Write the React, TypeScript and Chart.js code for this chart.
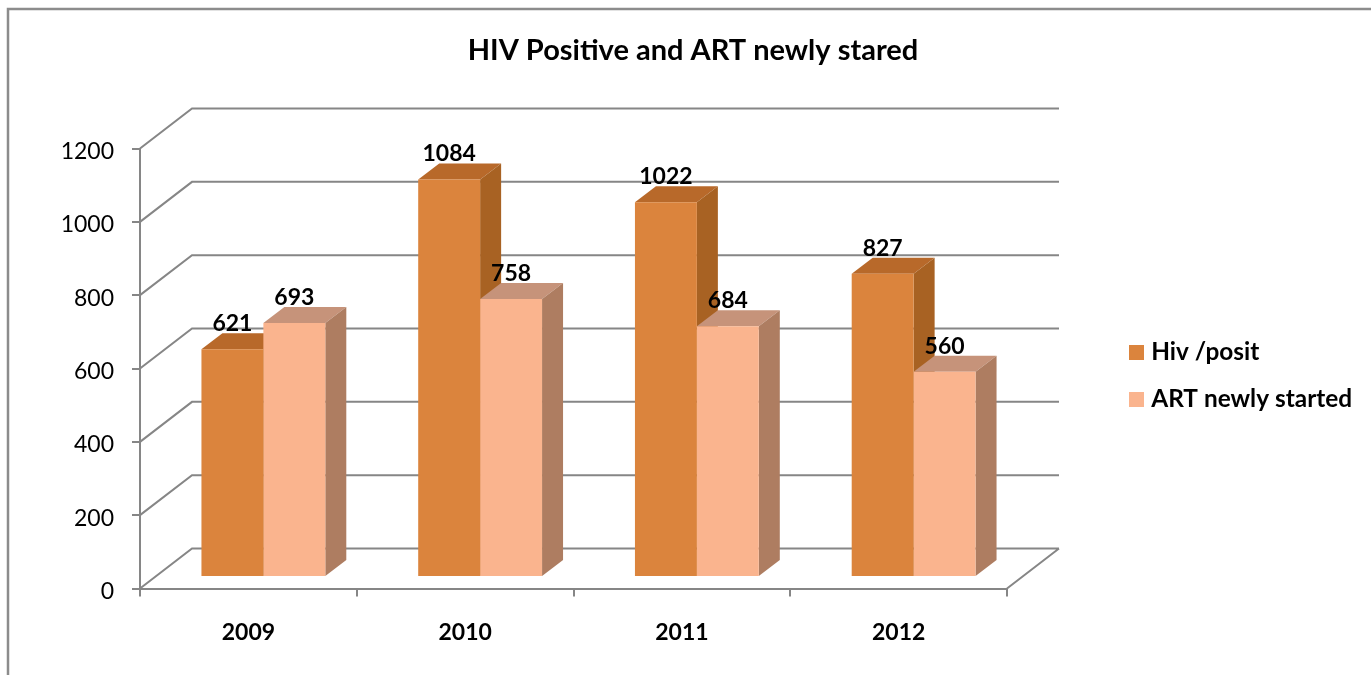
import { useEffect, useRef } from "react";
import { Chart, registerables } from "chart.js";

Chart.register(...registerables);

const years = ["2009", "2010", "2011", "2012"];
const hivPositive = [621, 1084, 1022, 827];
const artStarted = [693, 758, 684, 560];
const axisMax = 1200;
const axisStep = 200;

const AXIS_GREY = "#868686";
const FONT = "Lato";

// Oblique projection of the floor and of the columns standing on it.
const WALL = { dx: 52, dy: 40 };
const FRONT = { dx: 15, dy: 11.5 };
const COLUMN = { dx: 21, dy: 16 };

const faces = [
  { front: "#DB843D", top: "#B8692A", side: "#A86223" },
  { front: "#FAB48E", top: "#C6937A", side: "#AE7D61" },
];

function face(ctx: CanvasRenderingContext2D, pts: number[][], fill: string) {
  ctx.beginPath();
  pts.forEach(([x, y], i) => (i ? ctx.lineTo(x, y) : ctx.moveTo(x, y)));
  ctx.closePath();
  ctx.fillStyle = fill;
  ctx.fill();
}

const depthPlugin = {
  id: "depth",
  afterLayout(chart: any) {
    // The legend and title sit outside the plot's own centre line.
    const lg = chart.legend;
    lg.left = 1111.3;
    lg.right = 1371;
    lg.top = 317.6;
    lg.bottom = 675;
    chart.titleBlock.left = 0;
    chart.titleBlock.right = 1386;
  },
  beforeDraw(chart: any) {
    const { ctx, width, height } = chart;
    ctx.save();
    ctx.strokeStyle = "#8c8c8c";
    ctx.lineWidth = 2.5;
    ctx.beginPath();
    ctx.moveTo(8, height);
    ctx.lineTo(8, 9);
    ctx.lineTo(width, 9);
    ctx.stroke();
    ctx.restore();
    // Value labels on this axis sit slightly under their tick marks.
    for (const item of chart.scales.y.getLabelItems()) {
      item.options.translation[1] += 3;
    }
  },
  beforeDatasetsDraw(chart: any) {
    const { ctx, chartArea, scales } = chart;
    const { left, right, bottom } = chartArea;
    ctx.save();
    ctx.strokeStyle = AXIS_GREY;
    ctx.lineWidth = 2;
    ctx.beginPath();
    for (const tick of scales.y.ticks) {
      const y = scales.y.getPixelForValue(tick.value);
      ctx.moveTo(left, y);
      ctx.lineTo(left + WALL.dx, y - WALL.dy);
      ctx.lineTo(right + WALL.dx, y - WALL.dy);
    }
    ctx.moveTo(right, bottom);
    ctx.lineTo(right + WALL.dx, bottom - WALL.dy);
    ctx.stroke();
    ctx.restore();

    // Top and side faces go down first, left column before right column,
    // so a shorter neighbour hides the lower part of a taller column's side.
    ctx.save();
    ctx.translate(FRONT.dx, -FRONT.dy);
    chart.data.datasets.forEach((_: any, i: number) => {
      const shade = faces[i];
      for (const bar of chart.getDatasetMeta(i).data) {
        const l = bar.x - bar.width / 2;
        const r = bar.x + bar.width / 2;
        const t = bar.y;
        const b = bar.base;
        face(ctx, [[l, t], [l + COLUMN.dx, t - COLUMN.dy], [r + COLUMN.dx, t - COLUMN.dy], [r, t]], shade.top);
        face(ctx, [[r, t], [r + COLUMN.dx, t - COLUMN.dy], [r + COLUMN.dx, b - COLUMN.dy], [r, b]], shade.side);
      }
    });
    ctx.restore();
  },
  beforeDatasetDraw(chart: any) {
    chart.ctx.save();
    chart.ctx.translate(FRONT.dx, -FRONT.dy);
  },
  afterDatasetDraw(chart: any) {
    chart.ctx.restore();
  },
  afterDatasetsDraw(chart: any) {
    const { ctx } = chart;
    ctx.save();
    ctx.fillStyle = "#000";
    ctx.font = `bold 23px ${FONT}`;
    ctx.textAlign = "center";
    ctx.textBaseline = "middle";
    chart.data.datasets.forEach((ds: any, i: number) => {
      chart.getDatasetMeta(i).data.forEach((bar: any, j: number) => {
        ctx.fillText(String(ds.data[j]), bar.x + FRONT.dx, bar.y - FRONT.dy - 25.5);
      });
    });
    ctx.restore();
  },
};

export default function App() {
  const ref = useRef<HTMLCanvasElement>(null);

  useEffect(() => {
    const chart = new Chart(ref.current!, {
      type: "bar",
      data: {
        labels: years,
        datasets: [
          { label: "Hiv /posit", data: hivPositive, backgroundColor: faces[0].front, clip: false as any },
          { label: "ART newly started", data: artStarted, backgroundColor: faces[1].front, clip: false as any },
        ],
      },
      options: {
        responsive: false,
        animation: false,
        layout: { padding: { left: 0, right: 364, top: 0, bottom: 0 } },
        datasets: { bar: { categoryPercentage: 0.5714, barPercentage: 1 } },
        plugins: {
          tooltip: { enabled: false },
          title: {
            display: true,
            text: "HIV Positive and ART newly stared",
            color: "#000",
            font: { family: FONT, size: 29, weight: "bold" },
            padding: { top: 33.6, bottom: 80.1 },
          },
          legend: {
            position: "chartArea",
            align: "start",
            labels: {
              color: "#000",
              font: { family: FONT, size: 24.4, weight: "bold" },
              usePointStyle: true,
              pointStyle: "rect",
              boxWidth: 5,
              boxHeight: 15,
              padding: 22.7,
            },
          },
        },
        scales: {
          x: {
            afterFit: (s: any) => { s.height = 86.5; },
            grid: { drawOnChartArea: false, color: AXIS_GREY, lineWidth: 2, tickLength: 8 },
            border: { color: AXIS_GREY, width: 2 },
            ticks: { color: "#000", padding: 22, font: { family: FONT, size: 23, weight: "bold" } },
          },
          y: {
            min: 0,
            max: axisMax,
            afterFit: (s: any) => { s.width = 140; },
            grid: { drawOnChartArea: false, color: AXIS_GREY, lineWidth: 2, tickLength: 8 },
            border: { color: AXIS_GREY, width: 2 },
            ticks: {
              stepSize: axisStep,
              format: { useGrouping: false },
              color: "#000",
              padding: 18,
              font: { family: FONT, size: 23 },
            },
          },
        },
      },
      plugins: [depthPlugin],
    } as any);
    return () => chart.destroy();
  }, []);

  return (
    <div style={{ position: "fixed", left: 0, top: 0, width: 1371, height: 675, background: "#fff" }}>
      <canvas ref={ref} width={1371} height={675} style={{ display: "block" }} />
    </div>
  );
}
